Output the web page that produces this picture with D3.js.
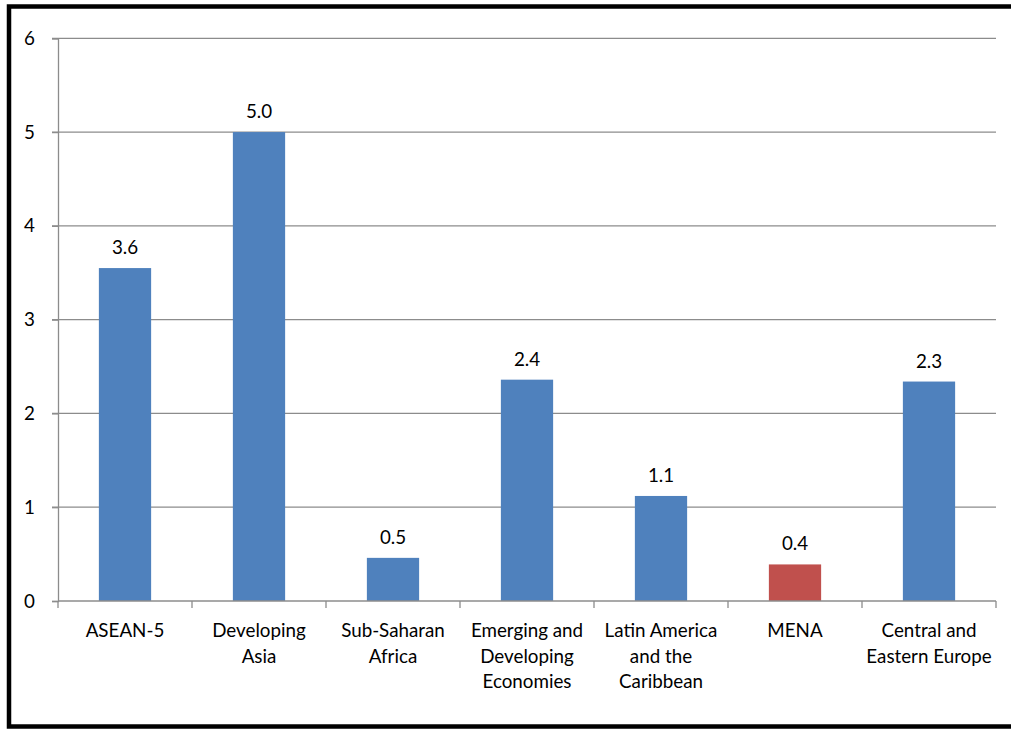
<!DOCTYPE html>
<html>
<head>
<meta charset="utf-8">
<script src="https://cdn.jsdelivr.net/npm/d3@7"></script>
<style>
  html, body { margin: 0; padding: 0; background: #fff; }
  svg { display: block; }
  text { font-family: Lato, "Open Sans", sans-serif; fill: #000; }
</style>
</head>
<body>
<svg id="chart" width="1011" height="730"></svg>
<script>
// ---- data ----
const categories = ["ASEAN-5", "Developing Asia", "Sub-Saharan Africa", "Emerging and Developing Economies", "Latin America and the Caribbean", "MENA", "Central and Eastern Europe"];
const categoryLines = [["ASEAN-5"], ["Developing", "Asia"], ["Sub-Saharan", "Africa"], ["Emerging and", "Developing", "Economies"], ["Latin America", "and the", "Caribbean"], ["MENA"], ["Central and", "Eastern Europe"]];
const values = [3.55, 5.0, 0.46, 2.36, 1.12, 0.39, 2.34];
const valueLabels = ["3.6", "5.0", "0.5", "2.4", "1.1", "0.4", "2.3"];
const highlighted = ["MENA"];
const yTicks = [0, 1, 2, 3, 4, 5, 6];

// ---- layout ----
const svg = d3.select("#chart");
const mLeft = 58, mRight = 996, mTop = 38.3, mBottom = 601;
const fontSize = "18.8px";

svg.append("rect")
  .attr("x", 9).attr("y", 6.5)
  .attr("width", 1040).attr("height", 720)
  .attr("fill", "none").attr("stroke", "#000").attr("stroke-width", 4.5);

const x = d3.scaleBand().domain(categories).range([mLeft, mRight]).paddingInner(0.61).paddingOuter(0.305);
const xb = d3.scaleBand().domain(categories).range([mLeft, mRight]);
const y = d3.scaleLinear().domain([0, 6]).range([mBottom, mTop]);

// gridlines
svg.append("g").selectAll("line").data(yTicks.filter(d => d > 0)).join("line")
  .attr("x1", mLeft - 6).attr("x2", mRight)
  .attr("y1", d => y(d)).attr("y2", d => y(d))
  .attr("stroke", "#8c8c8c").attr("stroke-width", 1.3);

// y axis
const yAxis = svg.append("g").attr("transform", `translate(${mLeft},0)`)
  .call(d3.axisLeft(y).tickValues(yTicks).tickSize(6).tickPadding(17).tickFormat(d3.format("d")));
yAxis.select(".domain").attr("stroke", "#8c8c8c").attr("stroke-width", 1.3);
yAxis.selectAll(".tick line").attr("stroke", "#8c8c8c").attr("stroke-width", 1.3);
yAxis.selectAll(".tick text").style("font-family", "Lato, 'Open Sans', sans-serif").style("font-size", fontSize).attr("fill", "#000");

// bars
svg.append("g").selectAll("rect").data(categories).join("rect")
  .attr("x", d => x(d))
  .attr("width", x.bandwidth())
  .attr("y", (d, i) => y(values[i]))
  .attr("height", (d, i) => y(0) - y(values[i]))
  .attr("fill", d => highlighted.includes(d) ? "#C0504D" : "#4F81BD");

// x axis
const xAxis = svg.append("g").attr("transform", `translate(0,${mBottom})`);
xAxis.append("line").attr("x1", mLeft).attr("x2", mRight).attr("stroke", "#8c8c8c").attr("stroke-width", 1.3);
const bounds = categories.map(c => xb(c)).concat([mRight]);
xAxis.selectAll("line.tk").data(bounds).join("line").attr("class", "tk")
  .attr("x1", d => d).attr("x2", d => d).attr("y1", 0).attr("y2", 7)
  .attr("stroke", "#8c8c8c").attr("stroke-width", 1.3);

// category labels
const lbl = svg.append("g").selectAll("text").data(categories).join("text")
  .attr("text-anchor", "middle")
  .style("font-size", fontSize)
  .attr("transform", d => `translate(${xb(d) + xb.bandwidth() / 2},${mBottom + 36})`);
lbl.each(function(d, i) {
  d3.select(this).selectAll("tspan").data(categoryLines[i]).join("tspan")
    .attr("x", 0).attr("y", (t, j) => j * 25.5).text(t => t);
});

// value labels
svg.append("g").selectAll("text").data(categories).join("text")
  .attr("text-anchor", "middle")
  .style("font-size", fontSize)
  .attr("x", d => x(d) + x.bandwidth() / 2)
  .attr("y", (d, i) => y(values[i]) - 14)
  .text((d, i) => valueLabels[i]);
</script>
</body>
</html>
